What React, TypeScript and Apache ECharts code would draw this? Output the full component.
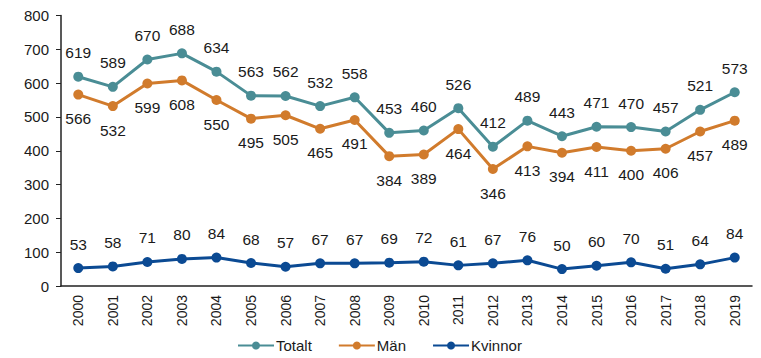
import React, { useEffect, useRef } from "react";
import * as echarts from "echarts";

const years = ["2000","2001","2002","2003","2004","2005","2006","2007","2008","2009","2010","2011","2012","2013","2014","2015","2016","2017","2018","2019"];
const totalt = [619, 589, 670, 688, 634, 563, 562, 532, 558, 453, 460, 526, 412, 489, 443, 471, 470, 457, 521, 573];
const man = [566, 532, 599, 608, 550, 495, 505, 465, 491, 384, 389, 464, 346, 413, 394, 411, 400, 406, 457, 489];
const kvinnor = [53, 58, 71, 80, 84, 68, 57, 67, 67, 69, 72, 61, 67, 76, 50, 60, 70, 51, 64, 84];
const yTicks = [0, 100, 200, 300, 400, 500, 600, 700, 800];

const FONT = "Liberation Sans, Arial, sans-serif";
const TXT = "#1a1a1a";

export default function App() {
  const ref = useRef<HTMLDivElement>(null);
  useEffect(() => {
    const chart = echarts.init(ref.current!, null, { renderer: "svg" });
    const mk = (name: string, data: number[], color: string, pos: "top" | "bottom") => ({
      name,
      type: "line",
      data,
      symbol: "circle",
      symbolSize: 10,
      lineStyle: { color, width: 3 },
      itemStyle: { color },
      label: {
        show: true,
        position: pos,
        distance: 11,
        color: TXT,
        fontSize: 15.5,
        fontFamily: FONT,
      },
    });
    chart.setOption({
      animation: false,
      textStyle: { fontFamily: FONT },
      grid: { left: 53, right: 9, top: 7, bottom: 72 },
      legend: {
        top: 325,
        left: 224,
        itemWidth: 36,
        itemHeight: 10,
        itemGap: 26,
        textStyle: { color: TXT, fontSize: 15, fontFamily: FONT, padding: [0, 0, 0, -3] },
        data: ["Totalt", "Män", "Kvinnor"],
      },
      xAxis: {
        type: "category",
        data: years,
        boundaryGap: true,
        axisLine: { lineStyle: { color: "#222", width: 1.5 } },
        axisTick: { alignWithLabel: true, length: 5, lineStyle: { color: "#222" } },
        axisLabel: { rotate: 90, color: TXT, fontSize: 14, fontFamily: FONT, margin: 9 },
      },
      yAxis: {
        type: "value",
        min: yTicks[0],
        max: yTicks[yTicks.length - 1],
        interval: 100,
        splitLine: { show: false },
        axisLine: { show: true, lineStyle: { color: "#222", width: 1.5 } },
        axisTick: { show: true, length: 5, lineStyle: { color: "#222" } },
        axisLabel: { color: TXT, fontSize: 15, fontFamily: FONT, margin: 12 },
      },
      series: [
        mk("Totalt", totalt, "#4a8d95", "top"),
        mk("Män", man, "#d17b2c", "bottom"),
        mk("Kvinnor", kvinnor, "#0b4a93", "top"),
      ],
    });
    return () => chart.dispose();
  }, []);
  return <div ref={ref} style={{ width: 753, height: 350 }} />;
}
